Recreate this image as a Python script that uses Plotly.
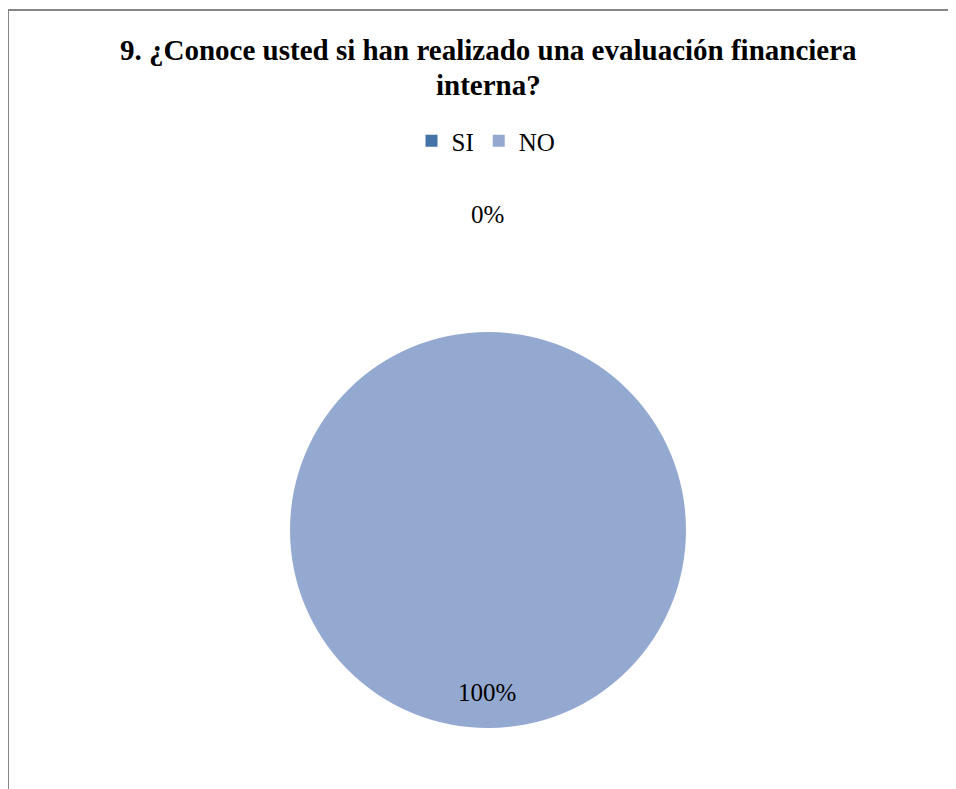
import plotly.graph_objects as go

categories = ["SI", "NO"]
values = [0, 100]
colors = ["#4572A7", "#94A9D0"]
title_lines = ["9. ¿Conoce usted si han realizado una evaluación financiera", "interna?"]

# the page places the figure 8px from the top-left corner of the window
W, H = 948, 781
OX, OY = 8, 8


def px(x):
    return (x - OX) / W


def py(y):
    return 1 - (y - OY) / H


total = sum(values)
pct = [f"{round(v / total * 100)}%" for v in values]

fig = go.Figure(go.Pie(
    labels=categories,
    values=values,
    marker=dict(colors=colors, line=dict(width=0)),
    sort=False,
    direction="clockwise",
    rotation=0,
    textinfo="none",
    hoverinfo="label+percent",
    domain=dict(x=[px(290), px(686)], y=[py(728), py(332)]),
    showlegend=True,
))

serif = "Times New Roman, Liberation Serif, DejaVu Serif, serif"

# title (two lines)
for line, yc in zip(title_lines, [50, 85]):
    fig.add_annotation(x=px(488), y=py(yc), xref="paper", yref="paper",
                       xanchor="center", yanchor="middle",
                       text=f"<b>{line}</b>", showarrow=False,
                       font=dict(family=serif, size=29, color="#000000"))

# data labels
fig.add_annotation(x=px(487), y=py(214), xref="paper", yref="paper",
                   xanchor="center", yanchor="middle",
                   text=pct[0], showarrow=False,
                   font=dict(family=serif, size=25, color="#000000"))
fig.add_annotation(x=px(487), y=py(692), xref="paper", yref="paper",
                   xanchor="center", yanchor="middle",
                   text=pct[1], showarrow=False,
                   font=dict(family=serif, size=25, color="#000000"))

# chart border (top and left visible)
fig.add_shape(type="line", xref="paper", yref="paper",
              x0=px(8), y0=py(10), x1=1.02, y1=py(10),
              line=dict(color="#868686", width=2))
fig.add_shape(type="line", xref="paper", yref="paper",
              x0=px(8), y0=py(10), x1=px(8), y1=-0.02,
              line=dict(color="#868686", width=2))

fig.update_layout(
    width=W, height=H,
    margin=dict(l=0, r=0, t=0, b=0),
    paper_bgcolor="white",
    plot_bgcolor="white",
    font=dict(family=serif, color="#000000"),
    legend=dict(
        orientation="h",
        x=px(486), xanchor="center",
        y=py(141), yanchor="middle",
        font=dict(family=serif, size=25, color="#000000"),
        itemwidth=30,
        traceorder="normal",
    ),
)

fig.write_html("out.html")
